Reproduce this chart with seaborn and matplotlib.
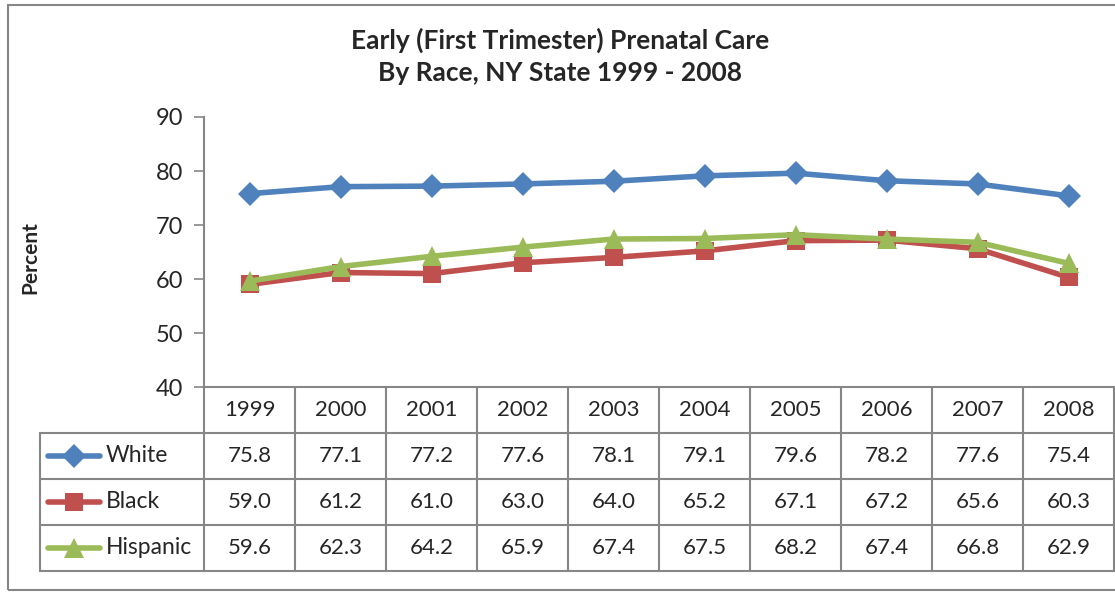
import matplotlib
matplotlib.use("Agg")
import matplotlib.pyplot as plt
import seaborn as sns
import pandas as pd
from matplotlib.lines import Line2D

# --- data ---
years = ["1999", "2000", "2001", "2002", "2003", "2004", "2005", "2006", "2007", "2008"]
white = [75.8, 77.1, 77.2, 77.6, 78.1, 79.1, 79.6, 78.2, 77.6, 75.4]
black = [59.0, 61.2, 61.0, 63.0, 64.0, 65.2, 67.1, 67.2, 65.6, 60.3]
hispanic = [59.6, 62.3, 64.2, 65.9, 67.4, 67.5, 68.2, 67.4, 66.8, 62.9]
groups = ["White", "Black", "Hispanic"]
series = {"White": white, "Black": black, "Hispanic": hispanic}
yticks = [40, 50, 60, 70, 80, 90]

colors = {"White": "#4F81BD", "Black": "#C0504D", "Hispanic": "#9BBB59"}
markers = {"White": "D", "Black": "s", "Hispanic": "^"}
msizes = {"White": 12.5, "Black": 13, "Hispanic": 15}

rows = []
for g in groups:
    for i, v in enumerate(series[g]):
        rows.append({"idx": i, "val": v, "group": g})
df = pd.DataFrame(rows)

sns.set_style("white")
plt.rcParams["font.family"] = ["Lato", "DejaVu Sans"]

W, H = 1115, 592
fig = plt.figure(figsize=(W / 100, H / 100), dpi=100)

def fx(px):
    return px / W

def fy(py):
    return 1 - py / H

left, right, top, bottom = 204, 1114, 117, 387
ax = fig.add_axes([fx(left), fy(bottom), fx(right - left), (bottom - top) / H])

# one call per group so marker sizes can differ
for g in groups:
    sns.lineplot(data=df[df.group == g], x="idx", y="val", ax=ax,
                 color=colors[g], marker=markers[g], markersize=msizes[g],
                 markeredgewidth=0, linewidth=4, legend=False)

ax.set_xlim(-0.5, len(years) - 0.5)
ax.set_ylim(40, 90)
ax.set_yticks(yticks)
ax.set_yticklabels([str(t) for t in yticks], fontsize=17)
ax.set_xticks([])
ax.set_xlabel("")
ax.set_ylabel("")
ax.tick_params(axis="y", direction="out", length=7, width=1.2, color="#868686",
               left=True, pad=8)
for s in ["top", "right"]:
    ax.spines[s].set_visible(False)
for s in ["left", "bottom"]:
    ax.spines[s].set_color("#868686")
    ax.spines[s].set_linewidth(1.5)

# --- titles ---
fig.text(fx(560), fy(40), "Early (First Trimester) Prenatal Care", ha="center", va="center",
         fontsize=19, fontweight="bold")
fig.text(fx(560), fy(73), "By Race, NY State 1999 - 2008", ha="center", va="center",
         fontsize=19, fontweight="bold")
fig.text(fx(30), fy(258), "Percent", rotation=90, ha="center", va="center",
         fontsize=15, fontweight="bold")

# --- data table ---
gc = "#868686"
col_w = (right - left) / len(years)
row_y = [387, 433, 479, 525, 571]

def hline(y, x0, x1):
    fig.add_artist(Line2D([fx(x0), fx(x1)], [fy(y), fy(y)], color=gc, lw=1.5))

def vline(x, y0, y1):
    fig.add_artist(Line2D([fx(x), fx(x)], [fy(y0), fy(y1)], color=gc, lw=1.5))

for y in row_y[1:]:
    hline(y, 40, right + 2)
vline(40, row_y[1], row_y[-1])
for i in range(len(years) + 1):
    vline(left + i * col_w, row_y[0], row_y[-1])

for i, yr in enumerate(years):
    cx = left + (i + 0.5) * col_w
    fig.text(fx(cx), fy((row_y[0] + row_y[1]) / 2), yr, ha="center", va="center", fontsize=16)
    for r, g in enumerate(groups):
        cy = (row_y[r + 1] + row_y[r + 2]) / 2
        fig.text(fx(cx), fy(cy), f"{series[g][i]:.1f}", ha="center", va="center", fontsize=16)

for r, g in enumerate(groups):
    cy = (row_y[r + 1] + row_y[r + 2]) / 2
    fig.add_artist(Line2D([fx(48), fx(100)], [fy(cy), fy(cy)], color=colors[g], lw=4,
                          solid_capstyle="round"))
    fig.add_artist(Line2D([fx(74)], [fy(cy)], color=colors[g], marker=markers[g],
                          markersize=msizes[g], markeredgewidth=0, linestyle="none"))
    fig.text(fx(106), fy(cy), g, ha="left", va="center", fontsize=16.5)

# outer chart border
fig.add_artist(plt.Rectangle((fx(8), fy(590)), fx(1200), (590 - 5) / H, fill=False,
                             edgecolor=gc, lw=1.5, transform=fig.transFigure))

fig.savefig("out.png", dpi=100)
